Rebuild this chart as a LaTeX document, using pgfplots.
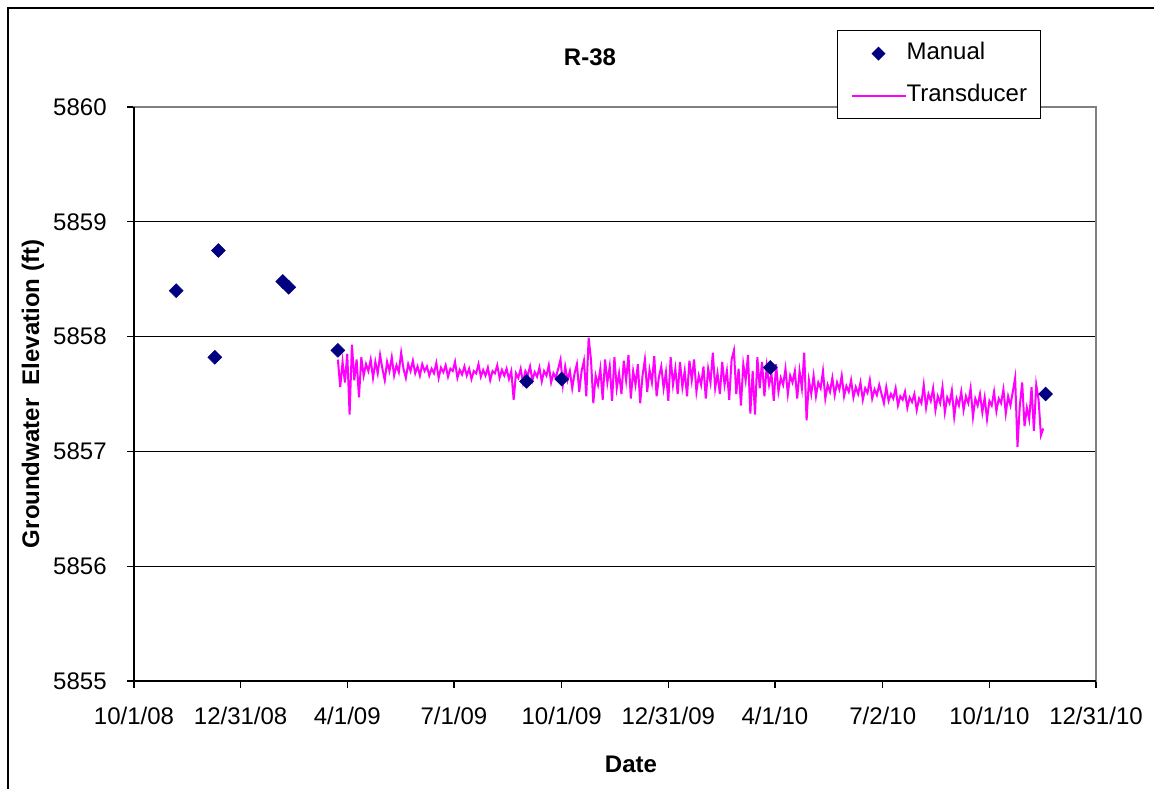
\documentclass[border=0pt]{standalone}
\usepackage{fontspec}
\setmainfont{Liberation Sans}
\usepackage{pgfplots}
\usepackage{pgfplotstable}
\pgfplotsset{compat=1.18}
\definecolor{navy}{HTML}{000080}
\definecolor{mag}{HTML}{FF00FF}
\definecolor{bordergray}{HTML}{808080}
\newcommand\lbl{\fontsize{18}{21.6}\selectfont}

% days since 10/1/2008, elevation (ft)
\pgfplotstableread{
d v
36 5858.40
72 5858.75
69 5857.82
127 5858.48
132 5858.43
174 5857.88
335 5857.61
365 5857.63
543 5857.73
778 5857.50
}\manual

\pgfplotstableread{
d v
174 5857.80
176 5857.56
178 5857.78
180 5857.60
182 5857.85
184 5857.32
186 5857.93
188 5857.62
190 5857.80
192 5857.47
194 5857.82
196 5857.66
198 5857.76
200 5857.70
202 5857.80
204 5857.64
206 5857.78
208 5857.68
210 5857.84
212 5857.72
214 5857.62
216 5857.78
218 5857.70
220 5857.82
222 5857.66
224 5857.75
226 5857.69
228 5857.86
230 5857.72
232 5857.64
234 5857.76
236 5857.70
238 5857.79
240 5857.68
242 5857.74
244 5857.66
246 5857.76
248 5857.70
250 5857.74
252 5857.66
254 5857.72
256 5857.68
258 5857.77
260 5857.64
262 5857.73
264 5857.69
266 5857.75
268 5857.65
270 5857.72
272 5857.70
274 5857.78
276 5857.64
278 5857.71
280 5857.67
282 5857.74
284 5857.66
286 5857.72
288 5857.63
290 5857.70
292 5857.68
294 5857.76
296 5857.65
298 5857.71
300 5857.66
302 5857.73
304 5857.62
306 5857.70
308 5857.68
310 5857.75
312 5857.64
314 5857.71
316 5857.66
318 5857.72
320 5857.63
322 5857.70
324 5857.45
326 5857.68
328 5857.64
330 5857.72
332 5857.60
334 5857.70
336 5857.66
338 5857.74
340 5857.62
342 5857.69
344 5857.65
346 5857.73
348 5857.61
350 5857.70
352 5857.66
354 5857.75
356 5857.60
358 5857.68
360 5857.64
362 5857.72
364 5857.80
366 5857.58
368 5857.74
370 5857.62
372 5857.70
374 5857.55
376 5857.68
378 5857.76
380 5857.52
382 5857.70
384 5857.79
386 5857.48
388 5857.99
390 5857.80
392 5857.42
394 5857.66
396 5857.58
398 5857.72
400 5857.45
402 5857.80
404 5857.60
406 5857.74
408 5857.44
410 5857.82
412 5857.55
414 5857.68
416 5857.50
418 5857.79
420 5857.62
422 5857.84
424 5857.46
426 5857.70
428 5857.58
430 5857.76
432 5857.42
434 5857.66
436 5857.80
438 5857.52
440 5857.71
442 5857.60
444 5857.83
446 5857.48
448 5857.65
450 5857.74
452 5857.55
454 5857.69
456 5857.44
458 5857.82
460 5857.58
462 5857.72
464 5857.50
466 5857.78
468 5857.56
470 5857.70
472 5857.48
474 5857.79
476 5857.62
478 5857.80
480 5857.52
482 5857.66
484 5857.58
486 5857.74
488 5857.46
490 5857.72
492 5857.60
494 5857.86
496 5857.55
498 5857.68
500 5857.50
502 5857.78
504 5857.58
506 5857.70
508 5857.45
510 5857.80
512 5857.88
514 5857.50
516 5857.72
518 5857.40
520 5857.76
522 5857.62
524 5857.84
526 5857.33
528 5857.70
530 5857.32
532 5857.82
534 5857.55
536 5857.78
538 5857.48
540 5857.74
542 5857.58
544 5857.68
546 5857.44
548 5857.76
550 5857.52
552 5857.64
554 5857.58
556 5857.72
558 5857.50
560 5857.66
562 5857.60
564 5857.70
566 5857.46
568 5857.70
570 5857.55
572 5857.86
574 5857.27
576 5857.62
578 5857.50
580 5857.66
582 5857.48
584 5857.60
586 5857.55
588 5857.70
590 5857.46
592 5857.58
594 5857.52
596 5857.64
598 5857.49
600 5857.60
602 5857.54
604 5857.66
606 5857.48
608 5857.57
610 5857.52
612 5857.62
614 5857.47
616 5857.56
618 5857.50
620 5857.60
622 5857.45
624 5857.55
626 5857.51
628 5857.62
630 5857.46
632 5857.54
634 5857.49
636 5857.58
638 5857.50
640 5857.42
642 5857.56
644 5857.44
646 5857.50
648 5857.46
650 5857.55
652 5857.40
654 5857.48
656 5857.45
658 5857.52
660 5857.38
662 5857.47
664 5857.43
666 5857.50
668 5857.36
670 5857.46
672 5857.42
674 5857.58
676 5857.38
678 5857.50
680 5857.44
682 5857.55
684 5857.36
686 5857.48
688 5857.42
690 5857.56
692 5857.34
694 5857.47
696 5857.42
698 5857.53
700 5857.30
702 5857.46
704 5857.40
706 5857.52
708 5857.36
710 5857.48
712 5857.42
714 5857.55
716 5857.30
718 5857.46
720 5857.40
722 5857.50
724 5857.34
726 5857.47
728 5857.28
730 5857.44
732 5857.40
734 5857.52
736 5857.35
738 5857.46
740 5857.42
742 5857.54
744 5857.33
746 5857.48
748 5857.40
750 5857.52
752 5857.64
754 5857.04
756 5857.40
758 5857.60
760 5857.22
762 5857.38
764 5857.28
766 5857.56
768 5857.18
770 5857.58
772 5857.45
774 5857.14
776 5857.20
}\transducer

\begin{document}
\begin{tikzpicture}
\useasboundingbox (0,0) rectangle (865.5pt,591.75pt);
\fill[white] (0,0) rectangle (865.5pt,591.75pt);
\draw[line width=1.5pt] (6pt,0) -- (6pt,585.75pt) -- (865.5pt,585.75pt);
\begin{axis}[
  at={(100.5pt,81pt)}, anchor=south west,
  scale only axis, width=721.5pt, height=430.5pt,
  xmin=0, xmax=821, ymin=5855, ymax=5860,
  xtick={0,91,182,273,365,456,547,639,730,821},
  xticklabels={10/1/08,12/31/08,4/1/09,7/1/09,10/1/09,12/31/09,4/1/10,7/2/10,10/1/10,12/31/10},
  ytick={5855,5856,5857,5858,5859,5860},
  /pgf/number format/.cd, 1000 sep={}, assume math mode=true,
  /pgfplots/.cd,
  ticklabel style={font=\lbl},
  tick pos=left, tick align=outside, major tick length=5pt,
  tick style={black, line width=1pt},
  axis line style={bordergray, line width=1pt},
  ymajorgrids, grid style={black, line width=1pt},
  xticklabel style={yshift=-11pt},
  yticklabel style={xshift=-12pt},
  legend cell align=left,
  reverse legend,
  legend style={at={(0.7308,1.134)}, anchor=north west, draw=black, line width=0.8pt,
    font=\lbl, inner xsep=9.75pt, inner ysep=8.75pt, row sep=14.5pt,
    nodes={inner sep=0pt, text height=13pt, text depth=4pt},
    /tikz/every even column/.append style={column sep=5pt}},
  after end axis/.code={
    \draw[black, line width=1.5pt] (rel axis cs:0,1) -- (rel axis cs:0,0) -- (rel axis cs:1,0);
  },
]
\addplot[mag, line width=1.5pt, no markers,
  legend image code/.code={\draw[mag, line width=1.5pt] (0pt,0pt) -- (40.5pt,0pt);}]
  table[x=d, y=v] {\transducer};
\addlegendentry{Transducer}
\addplot[navy, only marks, mark=square*, mark size=3.7pt, mark options={rotate=45, fill=navy, draw=navy, line width=0.4pt},
  legend image code/.code={\path[draw=none] (0pt,0pt) -- (40.5pt,0pt); \fill[navy, draw=none] (20.25pt,0pt) ++(0,3.7pt*1.414) -- ++(3.7pt*1.414,-3.7pt*1.414) -- ++(-3.7pt*1.414,-3.7pt*1.414) -- ++(-3.7pt*1.414,3.7pt*1.414) -- cycle;}]
  table[x=d, y=v] {\manual};
\addlegendentry{Manual}
\end{axis}
\node[font=\bfseries\lbl] at (442.5pt,549pt) {R-38};
\node[font=\bfseries\lbl, rotate=90] at (24.75pt,296.25pt) {Groundwater\ \ Elevation (ft)};
\node[font=\bfseries\lbl] at (473.25pt,18.75pt) {Date};
\end{tikzpicture}
\end{document}
